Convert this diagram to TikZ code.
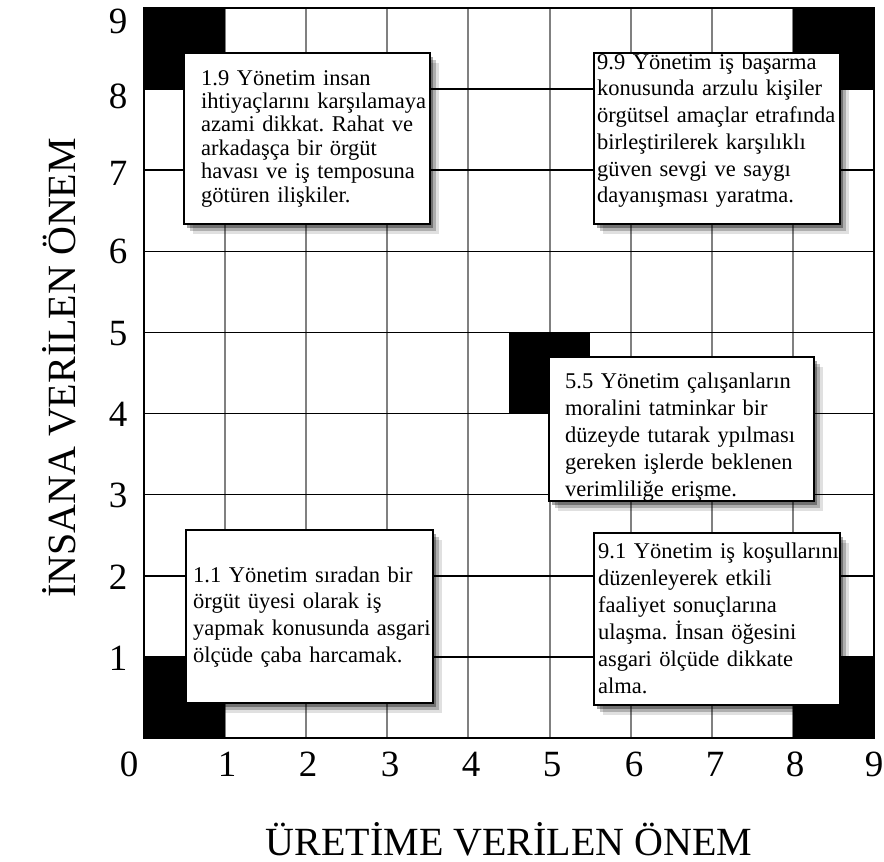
\documentclass[tikz,border=0pt]{standalone}
\usepackage{fontspec}
\setmainfont{Liberation Serif}
\usetikzlibrary{shadows}
\frenchspacing
\tikzset{
  vline/.style={draw=black!50, line width=2pt},
  hline/.style={draw=black, line width=1.5pt},
  frame/.style={draw=black, line width=2pt},
  corner/.style={fill=black},
  box/.style={draw=black, line width=1.6pt, fill=white, inner sep=0pt, anchor=north west,
    drop shadow={shadow xshift=9pt, shadow yshift=-10pt, opacity=0.12, fill=black},
    drop shadow={shadow xshift=6pt, shadow yshift=-7pt, opacity=0.22, fill=black},
    drop shadow={shadow xshift=3pt, shadow yshift=-4pt, opacity=0.35, fill=black}},
  boxtext/.style={anchor=base west, inner sep=0pt, text width=250pt, align=left,
    font=\fontsize{22.5}{27}\selectfont},
  tick/.style={inner sep=0pt, anchor=base, font=\fontsize{37}{40}\selectfont},
  axtitle/.style={inner sep=0pt, anchor=base, font=\fontsize{40}{44}\selectfont}
}
\begin{document}
\begin{tikzpicture}[x=1pt,y=-1pt]
\useasboundingbox (0,0) rectangle (884,862);
\fill[white] (0,0) rectangle (884,862);
\begin{scope}[shift={(144,738)}, x=81.111pt, y=81.111pt]
  \foreach \i in {1,...,8} \draw[vline] (\i,0) -- (\i,9);
  \foreach \j in {1,...,8} \draw[hline] (0,\j) -- (9,\j);
  \fill[corner] (0,8) rectangle (1,9);
  \fill[corner] (8,8) rectangle (9,9);
  \fill[corner] (0,0) rectangle (1,1);
  \fill[corner] (8,0) rectangle (9,1);
  \fill[corner] (4.5,4) rectangle (5.5,5);
  \draw[frame] (0,0) rectangle (9,9);
\end{scope}
% boxes
\node[box, minimum width=246pt, minimum height=171pt] (b19) at (183,52) {};
\node[box, minimum width=246pt, minimum height=171pt] (b99) at (593,52) {};
\node[box, minimum width=265pt, minimum height=144pt] (b55) at (548,356) {};
\node[box, minimum width=247pt, minimum height=173pt] (b11) at (185,529) {};
\node[box, minimum width=246pt, minimum height=172pt] (b91) at (593,532) {};
% texts
\node[boxtext, font=\fontsize{22.5}{23.4}\selectfont] (t19) at (201,85) {1.9 Yönetim insan\\ihtiyaçlarını karşılamaya\\azami dikkat. Rahat ve\\arkadaşça bir örgüt\\havası ve iş temposuna\\götüren ilişkiler.};
\node[boxtext, font=\fontsize{22.5}{26.8}\selectfont] (t99) at (597,69) {9.9 Yönetim iş başarma\\konusunda arzulu kişiler\\örgütsel amaçlar etrafında\\birleştirilerek karşılıklı\\güven sevgi ve saygı\\dayanışması yaratma.};
\node[boxtext, font=\fontsize{22.5}{27.2}\selectfont] (t55) at (565,388) {5.5 Yönetim çalışanların\\moralini tatminkar bir\\düzeyde tutarak ypılması\\gereken işlerde beklenen\\verimliliğe erişme.};
\node[boxtext, font=\fontsize{22.5}{26.7}\selectfont] (t11) at (193,582) {1.1 Yönetim sıradan bir\\örgüt üyesi olarak iş\\yapmak konusunda asgari\\ölçüde çaba harcamak.};
\node[boxtext, font=\fontsize{22.5}{27}\selectfont] (t91) at (598,558) {9.1 Yönetim iş koşullarını\\düzenleyerek etkili\\faaliyet sonuçlarına\\ulaşma. İnsan öğesini\\asgari ölçüde dikkate\\alma.};
% y ticks (baselines)
\node[tick] (y9) at (118,33) {9};
\node[tick] (y8) at (118,108) {8};
\node[tick] (y7) at (118,185) {7};
\node[tick] (y6) at (118,263) {6};
\node[tick] (y5) at (118,345) {5};
\node[tick] (y4) at (118,426) {4};
\node[tick] (y3) at (118,507) {3};
\node[tick] (y2) at (118,589) {2};
\node[tick] (y1) at (118,670) {1};
% x ticks (baselines)
\node[tick] (x0) at (129,776) {0};
\node[tick] (x1) at (227,776) {1};
\node[tick] (x2) at (308,776) {2};
\node[tick] (x3) at (390,776) {3};
\node[tick] (x4) at (471,776) {4};
\node[tick] (x5) at (552,776) {5};
\node[tick] (x6) at (634,776) {6};
\node[tick] (x7) at (715,776) {7};
\node[tick] (x8) at (795,776) {8};
\node[tick] (x9) at (874,776) {9};
% axis titles
\node[axtitle] (xt) at (509,855) {ÜRETİME VERİLEN ÖNEM};
\node[axtitle, rotate=90] (yt) at (75,368) {İNSANA VERİLEN ÖNEM};
\end{tikzpicture}
\end{document}
